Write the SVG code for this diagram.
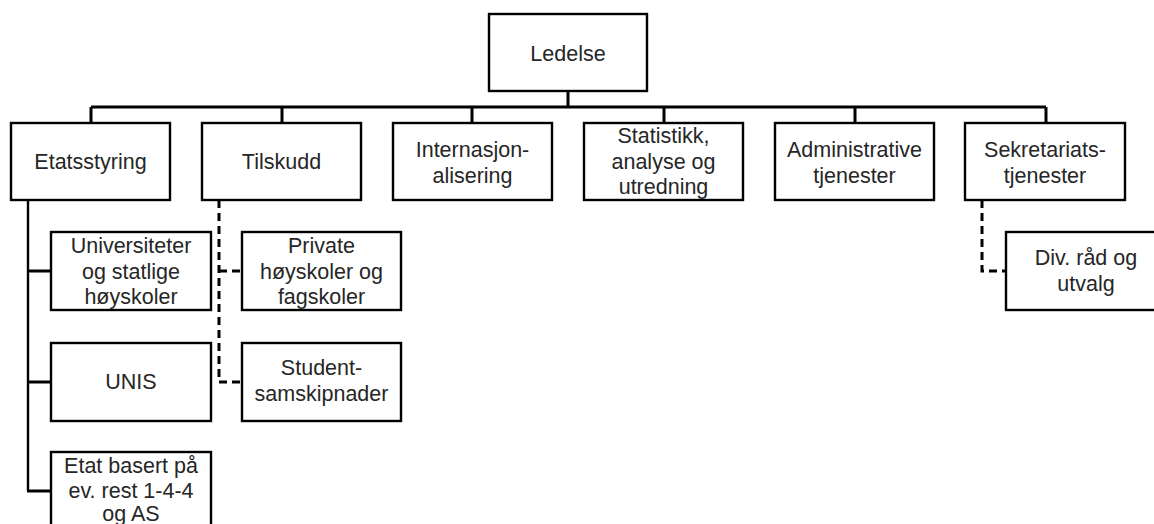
<svg xmlns="http://www.w3.org/2000/svg" width="1154" height="524" viewBox="0 0 1154 524">
<defs>
<style>
.box{fill:#fff;stroke:#000;stroke-width:2.4}
.t{font-family:"Liberation Sans",Arial,sans-serif;font-size:21.5px;fill:#262626;text-anchor:middle}
.c{fill:none;stroke:#000;stroke-width:3}
.d{fill:none;stroke:#000;stroke-width:3;stroke-dasharray:8 5}
</style>
</defs>
<rect width="1154" height="524" fill="#fff"/>
<g id="connectors">
<path class="c" d="M568 91V107M91 107H1046M91 107V123M282 107V123M472 107V123M664 107V123M855 107V123M1046 107V123"/>
<path class="c" style="stroke-width:2.4" d="M28 200V491"/>
<path class="c" d="M28 271H51M28 382H51M27 491H51"/>
<path class="d" d="M219 200V382H242M219 271H242"/>
<path class="d" d="M982 200V271H1006"/>
</g>
<g id="ledelse"><rect class="box" x="489" y="14" width="158" height="77"/><text class="t" x="568" y="61">Ledelse</text></g>
<g id="etatsstyring"><rect class="box" x="11" y="123" width="159" height="77"/><text class="t" x="90.5" y="169">Etatsstyring</text></g>
<g id="tilskudd"><rect class="box" x="202" y="123" width="159" height="77"/><text class="t" x="281.5" y="169">Tilskudd</text></g>
<g id="internasjonalisering"><rect class="box" x="393" y="123" width="159" height="77"/><text class="t" x="472.5" y="157">Internasjon-</text><text class="t" x="472.5" y="182.5">alisering</text></g>
<g id="statistikk"><rect class="box" x="584" y="123" width="159" height="77"/><text class="t" x="663.5" y="143">Statistikk,</text><text class="t" x="663.5" y="168.5">analyse og</text><text class="t" x="663.5" y="194">utredning</text></g>
<g id="administrative"><rect class="box" x="775" y="123" width="159" height="77"/><text class="t" x="854.5" y="157">Administrative</text><text class="t" x="854.5" y="182.5">tjenester</text></g>
<g id="sekretariats"><rect class="box" x="965" y="123" width="160" height="77"/><text class="t" x="1045" y="157">Sekretariats-</text><text class="t" x="1045" y="182.5">tjenester</text></g>
<g id="universiteter"><rect class="box" x="51" y="232" width="160" height="78"/><text class="t" x="131" y="253">Universiteter</text><text class="t" x="131" y="278.5">og statlige</text><text class="t" x="131" y="304">høyskoler</text></g>
<g id="unis"><rect class="box" x="51" y="343" width="160" height="78"/><text class="t" x="131" y="389">UNIS</text></g>
<g id="etat"><rect class="box" x="51" y="452" width="160" height="80"/><text class="t" x="131" y="473">Etat basert på</text><text class="t" x="131" y="497.5">ev. rest 1-4-4</text><text class="t" x="131" y="521">og AS</text></g>
<g id="private"><rect class="box" x="242" y="232" width="159" height="78"/><text class="t" x="321.5" y="253">Private</text><text class="t" x="321.5" y="278.5">høyskoler og</text><text class="t" x="321.5" y="304">fagskoler</text></g>
<g id="student"><rect class="box" x="242" y="343" width="159" height="78"/><text class="t" x="321.5" y="375">Student-</text><text class="t" x="321.5" y="401">samskipnader</text></g>
<g id="div"><rect class="box" x="1006" y="232" width="160" height="78"/><text class="t" x="1086" y="265">Div. råd og</text><text class="t" x="1086" y="291">utvalg</text></g>
</svg>
